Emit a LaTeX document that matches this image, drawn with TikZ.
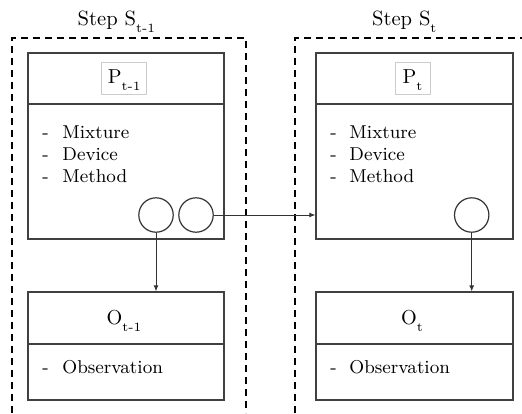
\documentclass[tikz,border=0pt]{standalone}
\usetikzlibrary{arrows.meta}
\newcommand\bodyfont{\fontsize{9.3}{11.2}\selectfont}
\newcommand\titlefont{\fontsize{10.3}{12.4}\selectfont}
\newcommand\lblfont{\fontsize{10.1}{12.1}\selectfont}
\newcommand\mysub[1]{\raisebox{-3.7pt}{\fontsize{6.3}{7.5}\selectfont #1}}
\begin{document}
\begin{tikzpicture}[x=0.5pt,y=-0.5pt,
  stepline/.style={draw=black,line width=1pt,dash pattern=on 3.5pt off 2.5pt},
  box/.style={draw=black!75,line width=0.6pt,inner sep=0pt,minimum width=98pt},
  divline/.style={draw=black!75,line width=0.6pt},
  lbl/.style={draw=black!20,line width=0.5pt,inner sep=0pt,anchor=base,
    text height=10.65pt,text depth=5.35pt,font=\lblfont},
  olbl/.style={anchor=base,inner sep=0pt,font=\lblfont},
  item/.style={anchor=base west,inner sep=0pt,font=\bodyfont},
  circ/.style={circle,draw=black!80,line width=0.6pt,minimum size=17.2pt,inner sep=0pt},
  conn/.style={draw=black!80,line width=0.5pt,-{Latex[length=3pt,width=2.5pt]}}]
\useasboundingbox (0,0) rectangle (522,413);
% dashed step frames
\draw[stepline] (12,413) -- (12,38) -- (246,38) -- (246,413);
\draw[stepline] (295,413) -- (295,38) -- (523,38);
% titles
\node[anchor=base west,inner sep=0pt,font=\titlefont] (tprev) at (77.3,25) {Step S\mysub{t-1}};
\node[anchor=base west,inner sep=0pt,font=\titlefont] (tnext) at (371.7,25) {Step S\mysub{t}};
% P boxes
\node[box,minimum height=93pt] (Pprev) at (126,146) {};
\node[box,minimum height=93pt,minimum width=98.5pt] (Pnext) at (414.5,146) {};
\draw[divline] (Pprev.west |- 0,104) -- (Pprev.east |- 0,104);
\draw[divline] (Pnext.west |- 0,104) -- (Pnext.east |- 0,104);
\node[lbl,minimum width=22.5pt] (Lprev) at (124.2,83.3) {P\mysub{t-1}};
\node[lbl,minimum width=17.5pt] (Lnext) at (412.5,83.3) {P\mysub{t}};
% P items
\node[item] (pa1) at (42,138) {-};
\node[item] (pb1) at (62,138) {Mixture};
\node[item] (pa2) at (42,160.5) {-};
\node[item] (pb2) at (62,160.5) {Device};
\node[item] (pa3) at (42,182) {-};
\node[item] (pb3) at (62,182) {Method};
\node[item] (qa1) at (330,138) {-};
\node[item] (qb1) at (349,138) {Mixture};
\node[item] (qa2) at (330,160.5) {-};
\node[item] (qb2) at (349,160.5) {Device};
\node[item] (qa3) at (330,182) {-};
\node[item] (qb3) at (349,182) {Method};
% circles
\node[circ] (c1) at (156,215) {};
\node[circ] (c2) at (196,215) {};
\node[circ] (c3) at (471.7,215) {};
% O boxes
\node[box,minimum height=54pt] (Oprev) at (126,346) {};
\node[box,minimum height=54pt,minimum width=98.5pt] (Onext) at (414.5,346) {};
\draw[divline] (Oprev.west |- 0,344) -- (Oprev.east |- 0,344);
\draw[divline] (Onext.west |- 0,344) -- (Onext.east |- 0,344);
\node[olbl] (LOprev) at (124,324) {O\mysub{t-1}};
\node[olbl] (LOnext) at (412,324) {O\mysub{t}};
\node[item] (oa1) at (42,373) {-};
\node[item] (ob1) at (62,373) {Observation};
\node[item] (ra1) at (330,373) {-};
\node[item] (rb1) at (349,373) {Observation};
% connectors
\draw[conn] (c2.east) -- (c2.east -| Pnext.west);
\draw[conn] (c1.south) -- (c1.south |- Oprev.north);
\draw[conn] (c3.south) -- (c3.south |- Onext.north);
\end{tikzpicture}
\end{document}
